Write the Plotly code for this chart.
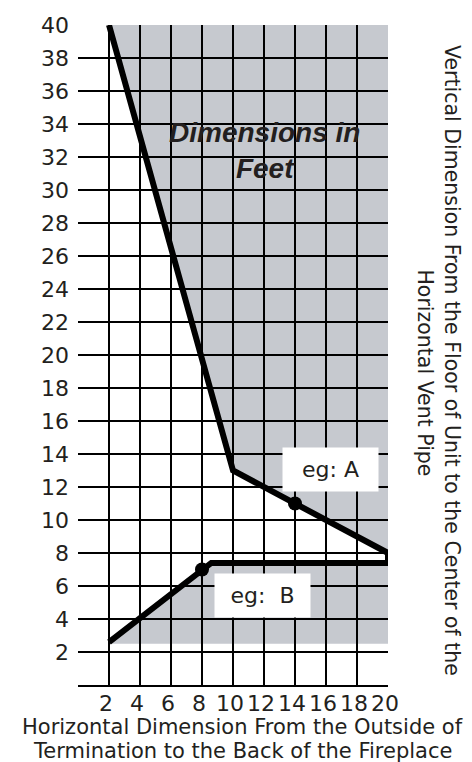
import plotly.graph_objects as go

# ---- data ----
x_ticks = [2, 4, 6, 8, 10, 12, 14, 16, 18, 20]
y_ticks = [2, 4, 6, 8, 10, 12, 14, 16, 18, 20, 22, 24, 26, 28, 30, 32, 34, 36, 38, 40]

lineA_x = [2, 10, 20]
lineA_y = [40, 13, 8]
lineB_x = [2, 8.6, 20, 20]
lineB_y = [2.6, 7.4, 7.4, 8]

dots_x = [14, 8]
dots_y = [11, 7]

# shaded regions (polygons)
shadeTop_x = [2, 20, 20, 10, 2]
shadeTop_y = [40, 40, 8, 13, 40]
shadeBot_x = [2, 8.6, 20, 20, 2]
shadeBot_y = [2.6, 7.4, 7.4, 2.5, 2.5]

labels = ["eg: A", "eg:  B"]
label_x = [16.3, 11.9]
label_y = [13.05, 5.4]

x_title_lines = ["Horizontal Dimension From the Outside of",
                 "Termination to the Back of the Fireplace"]
y_title_lines = ["Vertical Dimension From the Floor of Unit to the Center of the",
                 "Horizontal Vent Pipe"]

TXT = "#231f20"
GRAY = "#c6c9cf"
FONT = "DejaVu Sans, Liberation Sans, Arial, sans-serif"
FONT_B = "Liberation Sans, Arial, sans-serif"


def path_of(xs, ys):
    return "M " + " L ".join(f"{a},{b}" for a, b in zip(xs, ys)) + " Z"


fig = go.Figure()

fig.add_trace(go.Scatter(x=lineA_x, y=lineA_y, mode="lines",
                         line=dict(color="black", width=6), cliponaxis=False,
                         hoverinfo="skip", showlegend=False))
fig.add_trace(go.Scatter(x=lineB_x, y=lineB_y, mode="lines",
                         line=dict(color="black", width=6), cliponaxis=False,
                         hoverinfo="skip", showlegend=False))
fig.add_trace(go.Scatter(x=dots_x, y=dots_y, mode="markers",
                         marker=dict(color="black", size=14), cliponaxis=False,
                         hoverinfo="skip", showlegend=False))

shapes = []
for xs, ys in [(shadeTop_x, shadeTop_y), (shadeBot_x, shadeBot_y)]:
    shapes.append(dict(type="path", xref="x", yref="y", path=path_of(xs, ys),
                       fillcolor=GRAY, line=dict(width=0), layer="below"))

annotations = []
for t, ax_, ay_ in zip(labels, label_x, label_y):
    annotations.append(dict(x=ax_, y=ay_, xref="x", yref="y", text=t, showarrow=False,
                            bgcolor="white", width=95, height=43, borderpad=0,
                            font=dict(family=FONT, size=22, color=TXT)))

annotations.append(dict(x=12, y=32.4, xref="x", yref="y",
                        text="<b><i>Dimensions in<br>Feet</i></b>", showarrow=False,
                        font=dict(family=FONT_B, size=28, color=TXT)))

# bottom title (two lines)
for t, py in zip(x_title_lines, [-0.0636, -0.1]):
    annotations.append(dict(x=0.532, y=py, xref="paper", yref="paper",
                            xanchor="center", yanchor="middle", text=t, borderpad=0,
                            showarrow=False, font=dict(family=FONT, size=21, color=TXT)))

# right title (two lines, rotated clockwise)
for t, px, py in zip(y_title_lines, [1.2065, 1.118], [0.4924, 0.4727]):
    annotations.append(dict(x=px, y=py, xref="paper", yref="paper",
                            xanchor="center", yanchor="middle", textangle=90, text=t,
                            showarrow=False, font=dict(family=FONT, size=20.5, color=TXT)))

fig.update_layout(
    width=472, height=762,
    margin=dict(l=70, r=92, t=17, b=85, autoexpand=False),
    paper_bgcolor="white", plot_bgcolor="white",
    shapes=shapes, annotations=annotations,
    xaxis=dict(range=[0, 20], tickvals=x_ticks, ticktext=[str(v) for v in x_ticks],
               showgrid=True, gridcolor="black", gridwidth=2, zeroline=False,
               showline=True, linecolor="black", linewidth=2, ticks="",
               automargin=False, ticklabelshift=-3, ticklabelstandoff=-2,
               tickfont=dict(family=FONT, size=22, color=TXT), fixedrange=True),
    yaxis=dict(range=[0, 40], tickvals=y_ticks, ticktext=[str(v) for v in y_ticks],
               showgrid=True, gridcolor="black", gridwidth=2, zeroline=False,
               showline=False, ticks="", automargin=False, ticklabelstandoff=8,
               tickfont=dict(family=FONT, size=22, color=TXT), fixedrange=True),
)

fig.write_html("out.html")
